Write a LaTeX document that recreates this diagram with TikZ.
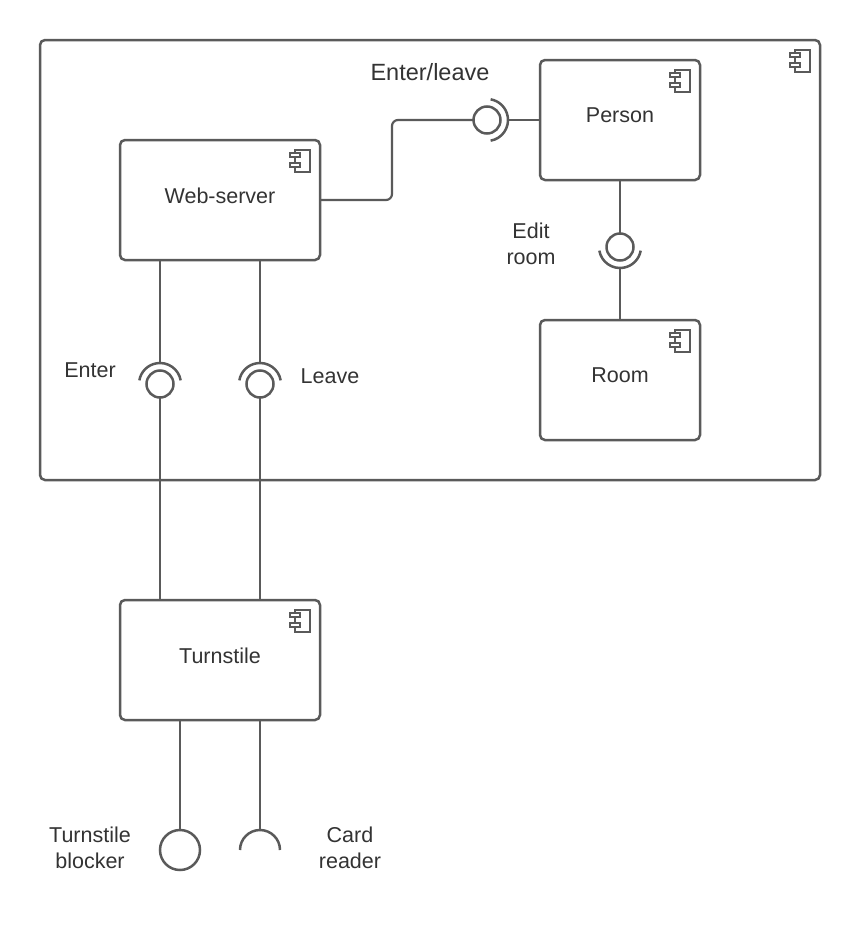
\documentclass[tikz,border=0pt]{standalone}
\usepackage{fontspec}
\setmainfont{Liberation Sans}
\definecolor{ln}{HTML}{5A5A5A}
\definecolor{tx}{HTML}{333333}
\newcommand\compicon[1]{%
  \draw[icon] ([xshift=-25pt,yshift=-10pt]#1.north east) rectangle ++(15pt,-22pt);
  \draw[icon,fill=white] ([xshift=-30pt,yshift=-13pt]#1.north east) rectangle ++(10pt,-4pt);
  \draw[icon,fill=white] ([xshift=-30pt,yshift=-23pt]#1.north east) rectangle ++(10pt,-4pt);
}
\newcommand\up[1]{\raisebox{9pt}{#1}}
\begin{document}
\begin{tikzpicture}[x=1pt,y=-1pt,
  comp/.style={draw=ln, line width=2.5pt, rounded corners=5pt, outer sep=0pt,
    minimum width=200pt, minimum height=120pt, inner sep=0pt,
    font=\fontsize{21.5}{26}\selectfont, text=tx},
  icon/.style={draw=ln, line width=1.4pt},
  wire/.style={draw=ln, line width=2.2pt},
  ball/.style={circle, draw=ln, line width=2.5pt, minimum size=27pt, inner sep=0pt, outer sep=0pt},
  sock/.style={draw=ln, line width=2.5pt},
  lbl/.style={font=\fontsize{21.5}{26}\selectfont, text=tx, align=center, inner sep=0pt}]
\useasboundingbox (0,0) rectangle (860,929);

% components
\node[comp, minimum width=780pt, minimum height=440pt] (sys) at (430,260) {};
\node[comp] (ws) at (220,200) {\up{Web-server}};
\node[comp, minimum width=160pt] (person) at (620,120) {\up{Person}};
\node[comp, minimum width=160pt] (room) at (620,380) {\up{Room}};
\node[comp] (ts) at (220,660) {\up{Turnstile}};
\compicon{sys}
\compicon{ws}
\compicon{person}
\compicon{room}
\compicon{ts}

% Enter/leave
\node[ball] (b4) at (487,120) {};
\draw[sock] ([shift={(-80:21pt)}]b4.center) arc[start angle=-80, end angle=80, radius=21pt];
\coordinate (s4) at ([xshift=21pt]b4.center);
\coordinate (bend) at (392,0);
\draw[wire, rounded corners=6pt] (ws.east) -- (ws.east -| bend) -- (bend |- b4.west) -- (b4.west);
\draw[wire] (s4) -- (person.west);
\node[lbl, font=\fontsize{23.5}{28}\selectfont] (lel) at (430,72) {Enter/leave};

% Edit room
\node[ball] (b3) at (620,247) {};
\draw[sock] ([shift={(190:21pt)}]b3.center) arc[start angle=190, end angle=350, radius=21pt];
\coordinate (s3) at ([yshift=-21pt]b3.center);
\draw[wire] (person.south) -- (b3.north);
\draw[wire] (s3) -- (room.north);
\node[lbl] (erl) at (531,244) {Edit\\room};

% Enter
\node[ball] (b1) at (160,384) {};
\draw[sock] ([shift={(10:21pt)}]b1.center) arc[start angle=10, end angle=170, radius=21pt];
\coordinate (s1) at ([yshift=21pt]b1.center);
\draw[wire] (s1 |- ws.south) -- (s1);
\draw[wire] (b1.south) -- (b1.south |- ts.north);
\node[lbl] (enl) at (90,370) {Enter};

% Leave
\node[ball] (b2) at (260,384) {};
\draw[sock] ([shift={(10:21pt)}]b2.center) arc[start angle=10, end angle=170, radius=21pt];
\coordinate (s2) at ([yshift=21pt]b2.center);
\draw[wire] (s2 |- ws.south) -- (s2);
\draw[wire] (b2.south) -- (b2.south |- ts.north);
\node[lbl] (lvl) at (330,376) {Leave};

% Turnstile blocker
\node[ball, minimum size=40pt] (b5) at (180,850) {};
\draw[wire] (b5.north |- ts.south) -- (b5.north);
\node[lbl] (tbl) at (90,848) {Turnstile\\blocker};

% Card reader
\coordinate (c6) at (260,850);
\draw[sock] ([shift={(0:20pt)}]c6) arc[start angle=0, end angle=180, radius=20pt];
\coordinate (s6) at ([yshift=20pt]c6);
\draw[wire] (s6 |- ts.south) -- (s6);
\node[lbl] (crl) at (350,848) {Card\\reader};
\end{tikzpicture}
\end{document}
